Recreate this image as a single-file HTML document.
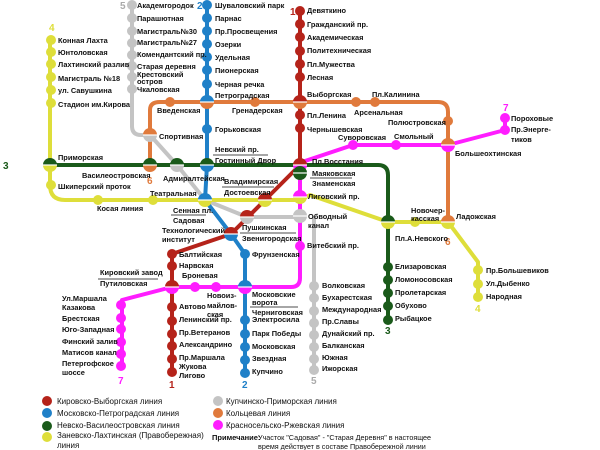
<!DOCTYPE html>
<html><head><meta charset="utf-8"><style>
body{margin:0;background:#fff;width:600px;height:450px;overflow:hidden}
svg{display:block}
text{font-family:"Liberation Sans",sans-serif;font-size:7.4px;font-weight:bold;fill:#111}
.n{font-size:10px;font-weight:bold}
.l{font-weight:normal;font-size:8px}
</style></head><body>
<svg id="s" width="600" height="450" viewBox="0 0 600 450">
<g fill="none" stroke-width="4" stroke-linejoin="round">
<path d="M132 8 V126 Q132 135 141 135 H150 L177 165 L205 200 L247 217 H300 M314 216 V370" stroke="#c4c4c4"/>
<path d="M50 40 V185 Q50 200 65 200 H300 L310 195 L388 222 H448 L478 262 V297" stroke="#dede3a"/>
<path d="M150 165 V110 Q150 102 160 102 H438 Q448 102 448 112 V222" stroke="#e07a3c"/>
<path d="M50 165 H300 M300 168 L304 165 H378 Q388 165 388 175 V320" stroke="#1a5a1a"/>
<path d="M207 5 V165 L205 200 L231 234 L245 254 V373" stroke="#1f80c8"/>
<path d="M300 11 V165 L265 200 L231 234 L172 254 V372" stroke="#b5231a"/>
<path d="M505 118 V130 L448 145 H353 L302 162 M300 162 V278 Q300 287 291 287 H172 L122 300 V366" stroke="#ff1dff"/>
</g>
<g id="st"></g>
<g>
<text class="n" x="3" y="169" style="fill:#1a5a1a">3</text>
<text class="n" x="49" y="31" style="fill:#dede3a">4</text>
<text class="n" x="120" y="9" style="fill:#aaa">5</text>
<text class="n" x="197" y="9" style="fill:#1f80c8">2</text>
<text class="n" x="290" y="15" style="fill:#b5231a">1</text>
<text class="n" x="147" y="184" style="fill:#e07a3c">6</text>
<text class="n" x="445" y="245" style="fill:#e07a3c">6</text>
<text class="n" x="503" y="111" style="fill:#ff1dff">7</text>
<text class="n" x="118" y="384" style="fill:#ff1dff">7</text>
<text class="n" x="169" y="388" style="fill:#b5231a">1</text>
<text class="n" x="242" y="388" style="fill:#1f80c8">2</text>
<text class="n" x="311" y="384" style="fill:#aaa">5</text>
<text class="n" x="385" y="334" style="fill:#1a5a1a">3</text>
<text class="n" x="475" y="312" style="fill:#dede3a">4</text>

<text x="58" y="43">Конная Лахта</text><text x="58" y="55">Юнтоловская</text><text x="58" y="67">Лахтинский разлив</text><text x="58" y="81">Магистраль №18</text><text x="58" y="93">ул. Савушкина</text><text x="58" y="107">Стадион им.Кирова</text>
<text x="137" y="8">Академгородок</text><text x="137" y="21">Парашютная</text><text x="137" y="34">Магистраль№30</text><text x="137" y="45">Магистраль№27</text><text x="137" y="57">Комендантский пр.</text><text x="137" y="69">Старая деревня</text><text x="137" y="77">Крестовский</text><text x="137" y="84">остров</text><text x="137" y="92">Чкаловская</text>
<text x="215" y="8">Шуваловский парк</text><text x="215" y="21">Парнас</text><text x="215" y="34">Пр.Просвещения</text><text x="215" y="47">Озерки</text><text x="215" y="60">Удельная</text><text x="215" y="73">Пионерская</text><text x="215" y="87">Черная речка</text><text x="215" y="98">Петроградская</text>
<text x="307" y="13">Девяткино</text><text x="307" y="27">Гражданский пр.</text><text x="307" y="40">Академическая</text><text x="307" y="53">Политехническая</text><text x="307" y="67">Пл.Мужества</text><text x="307" y="80">Лесная</text><text x="307" y="97">Выборгская</text><text x="307" y="118">Пл.Ленина</text><text x="307" y="132">Чернышевская</text>
<text x="157" y="113">Введенская</text><text x="232" y="113">Гренадерская</text><text x="159" y="139">Спортивная</text><text x="215" y="132">Горьковская</text>
<text x="215" y="152">Невский пр.</text><text x="215" y="163">Гостинный Двор</text>
<text x="58" y="160">Приморская</text><text x="82" y="178">Василеостровская</text><text x="163" y="181">Адмиралтейская</text>
<text x="224" y="184">Владимирская</text><text x="224" y="195">Достоевская</text><text x="150" y="196">Театральная</text>
<text x="173" y="213">Сенная пл.</text><text x="173" y="223">Садовая</text><text x="58" y="189">Шкиперский проток</text><text x="97" y="211">Косая линия</text>
<text x="354" y="115">Арсенальная</text><text x="372" y="97">Пл.Калинина</text><text x="388" y="125">Полюстровская</text>
<text x="511" y="121">Пороховые</text><text x="511" y="132">Пр.Энерге-</text><text x="511" y="142">тиков</text>
<text x="338" y="140">Суворовская</text><text x="394" y="139">Смольный</text><text x="455" y="156">Большеохтинская</text>
<text x="312" y="164">Пл.Восстания</text><text x="312" y="176">Маяковская</text><text x="312" y="186">Знаменская</text>
<text x="308" y="199">Лиговский пр.</text><text x="308" y="219">Обводный</text><text x="308" y="228">канал</text>
<text x="411" y="213">Новочер-</text><text x="411" y="221">касская</text><text x="456" y="219">Ладожская</text><text x="395" y="241">Пл.А.Невского</text>
<text x="162" y="233">Технологический</text><text x="162" y="242">институт</text>
<text x="242" y="230">Пушкинская</text><text x="242" y="241">Звенигородская</text>
<text x="179" y="257">Балтийская</text><text x="179" y="268">Нарвская</text><text x="182" y="278">Броневая</text>
<text x="100" y="275">Кировский завод</text><text x="100" y="286">Путиловская</text>
<text x="207" y="298">Новоиз-</text><text x="207" y="308">майлов-</text><text x="207" y="317">ская</text>
<text x="252" y="297">Московские</text><text x="252" y="305">ворота</text><text x="252" y="315">Черниговская</text><text x="252" y="257">Фрунзенская</text>
<text x="179" y="309">Автово</text><text x="179" y="322">Ленинский пр.</text><text x="179" y="335">Пр.Ветеранов</text><text x="179" y="347">Александрино</text><text x="179" y="360">Пр.Маршала</text><text x="179" y="369">Жукова</text><text x="179" y="378">Лигово</text>
<text x="252" y="322">Электросила</text><text x="252" y="336">Парк Победы</text><text x="252" y="349">Московская</text><text x="252" y="361">Звездная</text><text x="252" y="374">Купчино</text>
<text x="62" y="301">Ул.Маршала</text><text x="62" y="310">Казакова</text><text x="62" y="321">Брестская</text><text x="62" y="332">Юго-Западная</text><text x="62" y="344">Финский залив</text><text x="62" y="355">Матисов канал</text><text x="62" y="366">Петергофское</text><text x="62" y="375">шоссе</text>
<text x="307" y="248">Витебский пр.</text>
<text x="322" y="288">Волковская</text><text x="322" y="300">Бухарестская</text><text x="322" y="312">Международная</text><text x="322" y="324">Пр.Славы</text><text x="322" y="336">Дунайский пр.</text><text x="322" y="348">Балканская</text><text x="322" y="360">Южная</text><text x="322" y="371">Ижорская</text>
<text x="395" y="269">Елизаровская</text><text x="395" y="282">Ломоносовская</text><text x="395" y="295">Пролетарская</text><text x="395" y="308">Обухово</text><text x="395" y="321">Рыбацкое</text>
<text x="486" y="273">Пр.Большевиков</text><text x="486" y="286">Ул.Дыбенко</text><text x="486" y="299">Народная</text>
<text class="l" x="57" y="404">Кировско-Выборгская линия</text><text class="l" x="57" y="416">Московско-Петроградская линия</text><text class="l" x="57" y="428">Невско-Василеостровская линия</text><text class="l" x="57" y="438">Заневско-Лахтинская (Правобережная)</text><text class="l" x="57" y="448">линия</text>
<text class="l" x="226" y="404">Купчинско-Приморская линия</text><text class="l" x="226" y="416">Кольцевая линия</text><text class="l" x="226" y="428">Красносельско-Ржевская линия</text>
<text x="212" y="440" style="font-size:7.5px">Примечание:</text><text class="l" x="258" y="440" style="font-size:7.2px">Участок "Садовая" - "Старая Деревня" в настоящее</text><text class="l" x="258" y="449" style="font-size:7.2px">время действует в составе Правобережной линии</text>
</g>
<g stroke="#111" stroke-width="0.8">
<line x1="213" y1="155" x2="268" y2="155"/><line x1="222" y1="187" x2="274" y2="187"/><line x1="171" y1="215" x2="206" y2="215"/>
<line x1="310" y1="178" x2="352" y2="178"/><line x1="240" y1="233" x2="296" y2="233"/><line x1="98" y1="279" x2="158" y2="279"/><line x1="250" y1="307" x2="298" y2="307"/>
</g>
</svg>
<script>
var R="#b5231a",B="#1f80c8",G="#1a5a1a",Y="#dede3a",S="#c4c4c4",O="#e07a3c",M="#ff1dff";
var g=document.getElementById("st"),ns="http://www.w3.org/2000/svg";
function c(x,y,col,r){var e=document.createElementNS(ns,"circle");e.setAttribute("cx",x);e.setAttribute("cy",y);e.setAttribute("r",r||5);e.setAttribute("fill",col);g.appendChild(e);}
function h(x,y,t,b){var r=7;[[t,1],[b,0]].forEach(function(p){var e=document.createElementNS(ns,"path");e.setAttribute("d","M"+(x-r)+" "+y+" A"+r+" "+r+" 0 0 "+p[1]+" "+(x+r)+" "+y+"Z");e.setAttribute("fill",p[0]);g.appendChild(e);});var l=document.createElementNS(ns,"line");l.setAttribute("x1",x-7);l.setAttribute("x2",x+7);l.setAttribute("y1",y);l.setAttribute("y2",y);l.setAttribute("stroke","#fff");l.setAttribute("stroke-width","1.2");g.appendChild(l);}
[40,52,64,77,90,103,185].forEach(function(y){c(51,y,Y)});[98,153].forEach(function(x){c(x,200,Y)});
[5,18,31,43,55,66,77,89].forEach(function(y){c(132,y,S)});
[5,18,31,44,57,70,84,129].forEach(function(y){c(207,y,B)});[320,334,347,360,373].forEach(function(y){c(245,y,B)});c(245,254,B);
[11,24,37,51,64,77,115,128].forEach(function(y){c(300,y,R)});[254,266,307,321,334,346,359,372].forEach(function(y){c(172,y,R)});
[170,255,356,375].forEach(function(x){c(x,102,O)});c(448,121,O);
[118,130].forEach(function(y){c(505,y,M)});[353,396].forEach(function(x){c(x,145,M)});c(300,246,M);[195,216].forEach(function(x){c(x,287,M)});
[305,318,329,342,354,366].forEach(function(y){c(121,y,M)});
[286,298,311,323,335,347,359,370].forEach(function(y){c(314,y,S)});
[267,280,293,306,320].forEach(function(y){c(388,y,G)});[270,284,297].forEach(function(y){c(478,y,Y)});c(415,222,Y);
h(207,102,B,O);h(300,102,R,O);h(150,135,O,S);h(50,165,G,Y);h(150,165,G,O);h(177,165,G,S);h(207,165,G,B);
h(300,165,R,M);h(300,173,G,G);h(205,200,B,Y);h(265,200,R,Y);h(300,197,M,Y);h(247,217,R,S);h(300,216,S,S);h(231,234,R,B);
h(448,145,O,M);h(388,222,G,Y);h(448,222,O,Y);h(172,287,R,M);h(245,287,B,M);
[[R,401],[B,413],[G,426],[Y,437]].forEach(function(p){c(47,p[1],p[0],5)});[[S,401],[O,413],[M,425]].forEach(function(p){c(218,p[1],p[0],5)});
</script>
</body></html>
